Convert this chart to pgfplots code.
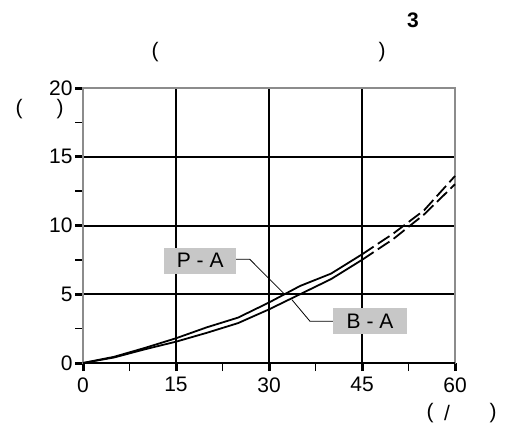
\documentclass[border=0pt]{standalone}
\usepackage{fontspec}
\setmainfont{Liberation Sans}
\usepackage{pgfplots}
\pgfplotsset{compat=1.18}
\begin{document}
\begin{tikzpicture}[x=1pt,y=1pt]
\path[use as bounding box] (0,0) rectangle (510,424);
\begin{axis}[at={(83pt,61pt)}, anchor=south west, scale only axis,
  width=372pt, height=275pt,
  xmin=0, xmax=60, ymin=0, ymax=20,
  xtick={0,15,30,45,60}, ytick={0,5,10,15,20},
  minor xtick={7.5,22.5,37.5,52.5}, minor ytick={2.5,7.5,12.5,17.5},
  xtick pos=bottom, ytick pos=left,
  tick align=outside, major tick length=8pt, minor tick length=8pt,
  major tick style={line width=3pt, black},
  minor tick style={line width=1.4pt, black},
  xmajorgrids, ymajorgrids,
  major grid style={black, line width=2pt},
  axis line style={black!45, line width=2pt},
  tick label style={font=\fontsize{21}{23}\selectfont},
  /pgf/number format/assume math mode=true,
  xticklabel style={yshift=-3pt},
  yticklabel style={xshift=1pt},
  clip=false,
]
\addplot[black, line width=1.8pt] coordinates {(0,0)(5,0.45)(10,1.1)(15,1.8)(20,2.6)(25,3.3)(30,4.4)(35,5.6)(40,6.5)(45,7.9)};
\addplot[black, line width=1.8pt, dash pattern=on 14pt off 5pt] coordinates {(45,7.9)(50,9.4)(55,11.1)(60,13.6)};
\addplot[black, line width=1.8pt] coordinates {(0,0)(5,0.4)(10,1.0)(15,1.55)(20,2.2)(25,2.9)(30,3.9)(35,5.0)(40,6.1)(45,7.5)};
\addplot[black, line width=1.8pt, dash pattern=on 14pt off 5pt] coordinates {(45,7.5)(50,9.0)(55,10.8)(60,13.0)};
\draw[black, line width=2pt] (axis cs:0,0) -- (axis cs:60,0);
\draw[black, line width=0.8pt] (axis cs:24.7,7.54) -- (axis cs:26.9,7.54) -- (axis cs:32.4,5.05);
\draw[black, line width=0.8pt] (axis cs:40.3,3.04) -- (axis cs:36.6,3.04) -- (axis cs:33.7,4.6);
\node[fill=black!22, minimum width=72pt, minimum height=26pt, inner sep=0pt, font=\fontsize{21}{23}\selectfont] at (axis cs:18.9,7.45) {P - A};
\node[fill=black!22, minimum width=74pt, minimum height=26pt, inner sep=0pt, font=\fontsize{21}{23}\selectfont] at (axis cs:46.3,3.04) {B - A};
\end{axis}
\node[font=\bfseries\fontsize{21}{23}\selectfont] at (413,404) {3};
\node[font=\fontsize{21}{23}\selectfont] at (155,372) {(};
\node[font=\fontsize{21}{23}\selectfont] at (382,372) {)};
\node[font=\fontsize{21}{23}\selectfont] at (19,315) {(};
\node[font=\fontsize{21}{23}\selectfont] at (60,315) {)};
\node[font=\fontsize{21}{23}\selectfont] at (430,11) {(};
\node[font=\fontsize{21}{23}\selectfont] at (447,11) {/};
\node[font=\fontsize{21}{23}\selectfont] at (493,11) {)};
\end{tikzpicture}
\end{document}
